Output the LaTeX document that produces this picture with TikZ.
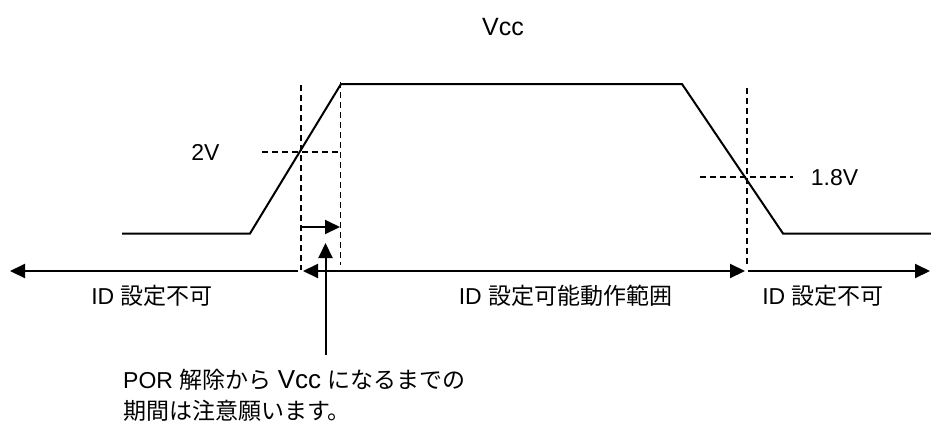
\documentclass[tikz,border=0pt]{standalone}
\usepackage{fontspec}
\setmainfont{Liberation Sans}
\newfontfamily\cjk{Noto Sans CJK JP}
\usepackage{tikz}
\usetikzlibrary{positioning, arrows.meta}

\begin{document}
\begin{tikzpicture}[
    x=1pt, y=-1pt,
    sig/.style={line width=2pt},
    guide/.style={dash pattern=on 6pt off 4pt, line width=1.5pt},
    span/.style={line width=2pt, -{Triangle[length=15pt, width=14pt]}},
    twoway/.style={line width=2pt, {Triangle[length=15pt, width=14pt]}-{Triangle[length=15pt, width=14pt]}},
    lbl/.style={font=\fontsize{23}{31}\selectfont, inner sep=0pt, anchor=base},
    note/.style={lbl, anchor=base west},
]
\useasboundingbox (0,0) rectangle (931,426);

% --- Vcc waveform ---
\coordinate (W0) at (122,233.5);
\coordinate (W1) at (250,233.5);
\coordinate (W2) at (341,84);
\coordinate (W3) at (682,84);
\coordinate (W4) at (783,233.5);
\coordinate (W5) at (931,233.5);
\draw[sig] (W0) -- (W1) -- (W2) -- (W3) -- (W4) -- (W5);

\node[lbl, font=\fontsize{25}{31}\selectfont] (vcc) at (503,35) {Vcc};

% --- Threshold guides ---
\coordinate (G1a) at (301,85);  \coordinate (G1b) at (301,270);
\coordinate (G2a) at (340.5,82); \coordinate (G2b) at (340.5,265);
\coordinate (G3a) at (747,88);  \coordinate (G3b) at (747,265);
\coordinate (H1a) at (262,152); \coordinate (H1b) at (338,152);
\coordinate (H2a) at (700,177); \coordinate (H2b) at (793,177);
\draw[guide] (G1a) -- (G1b);
\draw[guide] (G2a) -- (G2b);
\draw[guide] (G3a) -- (G3b);
\draw[guide] (H1a) -- (H1b);
\draw[guide] (H2a) -- (H2b);

\node[lbl] (on) at (205.5,160) {2V};
\node[lbl] (off) at (834.5,185) {1.8V};

% POR -> Vcc interval
\coordinate (P1) at (301,227);
\coordinate (P2) at (340,227);
\draw[span] (P1) -- (P2);

% --- Time axis ---
\coordinate (A0) at (10,271);
\coordinate (A1) at (298,271);
\coordinate (A2) at (303,271);
\coordinate (A3) at (745,271);
\coordinate (A4) at (748,271);
\coordinate (A5) at (930,271);
\draw[span] (A1) -- (A0);
\draw[twoway] (A2) -- (A3);
\draw[span] (A4) -- (A5);

\node[lbl] (ng1) at (152,304) {ID {\cjk 設定不可}};
\node[lbl] (ok) at (565.5,304) {ID {\cjk 設定可能動作範囲}};
\node[lbl] (ng2) at (823,304) {ID {\cjk 設定不可}};

% --- Note ---
\coordinate (N0) at (325.5,355);
\coordinate (N1) at (325.5,243);
\draw[span] (N0) -- (N1);

\node[note] (por1) at (123,388) {POR {\cjk 解除から} {\fontsize{26}{31}\selectfont Vcc} {\cjk になるまでの}};
\node[note] (por2) at (123,419) {\cjk 期間は注意願います。};

\end{tikzpicture}
\end{document}
